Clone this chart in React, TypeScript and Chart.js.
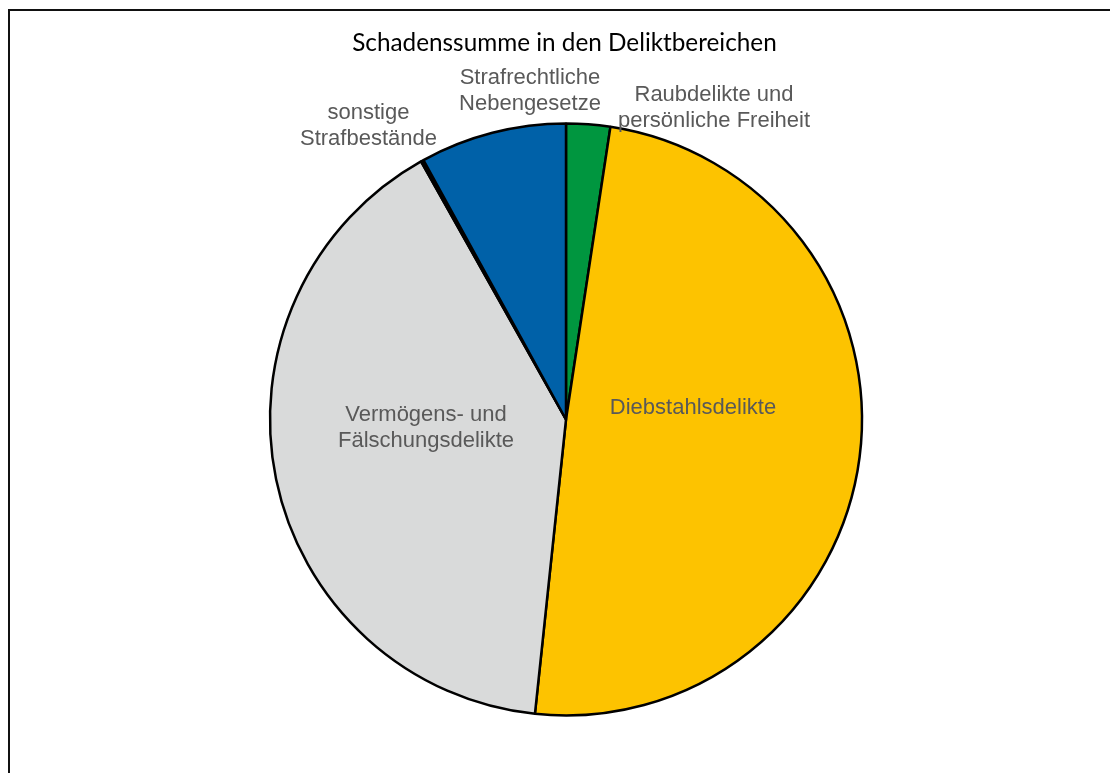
import React, { useEffect, useRef } from "react";
import { Chart, registerables } from "chart.js";

Chart.register(...registerables);

const chartTitle = "Schadenssumme in den Deliktbereichen";
const categories = [
  ["Raubdelikte und", "persönliche Freiheit"],
  ["Diebstahlsdelikte"],
  ["Vermögens- und", "Fälschungsdelikte"],
  ["sonstige", "Strafbestände"],
  ["Strafrechtliche", "Nebengesetze"],
];
const shares = [2.4, 49.3, 40.2, 0.15, 8.0];
const sliceColors = ["#00963F", "#FDC300", "#D9DADA", "#000000", "#0061A8"];

// label placement relative to pie centre (layout only)
const labelOffsets = [
  [148, -311.5],
  [127, -11.5],
  [-140, 8],
  [-197.5, -293.5],
  [-36, -328.5],
];

const W = 1094;
const H = 757;
const CX = 558;
const CY = 411.5;
const R = 296;
const BW = 2.5;

export default function App() {
  const ref = useRef<HTMLCanvasElement | null>(null);
  useEffect(() => {
    if (!ref.current) return;
    const half = R + BW / 2;
    const labelPlugin = {
      id: "customLabels",
      afterDraw(chart: any) {
        const ctx = chart.ctx;
        const meta = chart.getDatasetMeta(0);
        const arc0 = meta.data[0];
        const cx = arc0.x;
        const cy = arc0.y;
        ctx.save();
        ctx.fillStyle = "#000000";
        ctx.font = "24.3px Lato, 'Open Sans', sans-serif";
        ctx.textAlign = "center";
        ctx.textBaseline = "middle";
        ctx.fillText(chartTitle, 556.5, 35);
        ctx.fillStyle = "#595959";
        ctx.font = "22px 'Liberation Sans', Arial, sans-serif";
        const lh = 26;
        categories.forEach((lines, i) => {
          const [dx, dy] = labelOffsets[i];
          const n = lines.length;
          lines.forEach((ln, j) => {
            const y = cy + dy + (j - (n - 1) / 2) * lh;
            ctx.fillText(ln, cx + dx, y);
          });
        });
        ctx.restore();
      },
    };
    const chart = new Chart(ref.current, {
      type: "pie",
      data: {
        labels: categories.map((c) => c.join(" ")),
        datasets: [
          {
            data: shares,
            backgroundColor: sliceColors,
            borderColor: "#000000",
            borderWidth: BW,
          },
        ],
      },
      options: {
        responsive: false,
        animation: false,
        layout: {
          padding: {
            left: CX - half,
            right: W - CX - half,
            top: CY - half,
            bottom: H - CY - half,
          },
        },
        plugins: {
          legend: { display: false },
          title: { display: false },
          tooltip: { enabled: false },
        },
      },
      plugins: [labelPlugin],
    });
    return () => chart.destroy();
  }, []);
  return (
    <div style={{ position: "relative", width: W, height: H }}>
      <div
        style={{
          position: "fixed",
          left: 8,
          top: 9,
          width: 1102,
          height: 764,
          borderLeft: "2px solid #111",
          borderTop: "2px solid #111",
          boxSizing: "border-box",
        }}
      />
      <canvas
        ref={ref}
        width={W}
        height={H}
        style={{ position: "absolute", left: 0, top: 0, width: W, height: H }}
      />
    </div>
  );
}
